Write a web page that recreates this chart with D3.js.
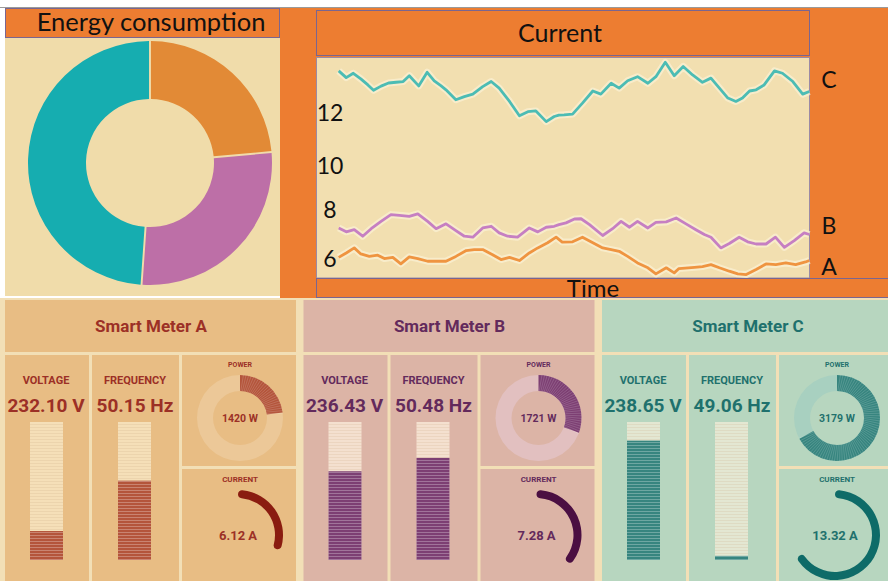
<!DOCTYPE html>
<html>
<head>
<meta charset="utf-8">
<script src="https://cdn.jsdelivr.net/npm/d3@7"></script>
<style>
  body { margin: 0; background: #fff; }
  svg { display: block; }
</style>
</head>
<body>
<div id="chart"></div>
<script>
// ---- data ----
const energyLabels = ["A", "B", "C"];
const energyShare = [23.5, 27.5, 49];          // % of total, clockwise from top

const yTicks = [6, 8, 10, 12];
const seriesNames = ["A", "B", "C"];

// [time, current] pairs
const currentA = [[0,6.05],[1.6,6.23],[3.3,6.44],[4.7,6.19],[6.5,6.09],[8.3,6.14],[9.7,6.00],[11.5,6.05],[13.2,5.78],[15.0,6.07],[16.8,6.00],[18.9,5.89],[20.7,5.89],[22.8,5.89],[24.9,6.09],[27.1,6.33],[28.8,6.37],[30.6,6.37],[32.7,6.16],[34.5,5.96],[36.3,6.05],[38.4,5.92],[40.5,6.23],[42.3,6.44],[44.4,6.65],[46.2,6.88],[47.5,6.68],[49.7,6.69],[51.8,6.88],[54.0,6.65],[56.1,6.44],[57.9,6.37],[59.6,6.30],[61.4,6.09],[63.5,5.82],[65.7,5.62],[67.4,5.37],[69.6,5.62],[71.3,5.41],[72.3,5.59],[75.6,5.64],[77.3,5.67],[79.1,5.75],[80.9,5.62],[83.0,5.48],[84.8,5.37],[86.6,5.34],[88.7,5.55],[90.8,5.78],[92.9,5.75],[95.0,5.82],[97.1,5.75],[99.2,5.86],[100,5.92]];
const currentB = [[0,7.26],[1.6,7.10],[3.3,7.19],[5.1,6.92],[6.9,7.23],[9.0,7.53],[11.1,7.81],[12.9,7.78],[15.0,7.74],[16.8,7.84],[18.9,7.53],[20.7,7.23],[22.8,7.43],[24.9,7.15],[26.7,6.92],[28.5,6.88],[30.6,7.26],[32.4,7.33],[34.1,7.06],[35.9,6.92],[38.0,6.88],[40.5,7.26],[42.3,7.10],[44.1,7.29],[45.8,7.33],[46.8,7.40],[48.3,7.47],[50.1,7.63],[51.5,7.64],[53.3,7.40],[56.1,6.95],[58.2,7.23],[60.0,7.53],[61.8,7.29],[63.5,7.53],[65.7,7.26],[67.4,7.49],[69.6,7.51],[71.7,7.67],[73.8,7.43],[75.9,7.19],[77.7,6.99],[79.1,6.88],[81.2,6.44],[83.0,6.62],[85.1,6.88],[86.9,6.69],[88.7,6.60],[90.8,6.60],[92.8,6.88],[94.7,6.46],[96.8,6.74],[98.9,7.06],[100,6.99]];
const currentC = [[0,13.73],[1.6,13.45],[3.1,13.63],[4.7,13.40],[6.2,13.15],[7.4,12.93],[9.0,13.10],[10.6,13.23],[12.2,13.26],[13.7,13.29],[15.0,13.53],[17.0,13.11],[18.8,13.67],[20.3,13.32],[21.7,13.12],[22.8,12.95],[24.9,12.54],[26.7,12.67],[28.5,12.77],[30.6,13.08],[32.4,13.29],[34.1,13.02],[36.3,12.47],[38.4,11.88],[40.2,12.05],[41.9,12.08],[44.1,11.64],[45.8,11.85],[46.8,11.91],[47.9,11.92],[49.7,11.95],[51.8,12.40],[54.0,12.90],[55.7,12.77],[57.9,13.22],[59.6,13.02],[61.4,13.32],[63.5,13.49],[65.7,13.22],[67.4,13.49],[69.4,14.08],[71.3,13.53],[73.2,13.91],[75.2,13.56],[77.3,13.26],[79.1,13.43],[80.9,13.02],[82.7,12.61],[84.4,12.47],[85.8,12.61],[87.3,12.90],[88.7,12.95],[90.4,13.15],[92.6,13.73],[94.3,13.63],[96.5,13.29],[98.6,12.77],[100,12.88]];

const meterNames = ["Smart Meter A", "Smart Meter B", "Smart Meter C"];
const voltage = [232.10, 236.43, 238.65];
const frequency = [50.15, 50.48, 49.06];
const power = [1420, 1721, 3179];
const current = [6.12, 7.28, 13.32];

// ---- styling ----
const orange = "#ed7d31";
const cream = "#f0dcaa";
const lineColors = ["#ef9440", "#c67fc2", "#4cbcb4"];
const donutColors = ["#e28a36", "#bd6fa7", "#16adb0"];
const themes = [
  { bg: "#e8bd84", text: "#9c3026", fill: "#b4553b", empty: "#f5dfb8", ring: "#ecc898", arc: "#8a1c10" },
  { bg: "#dcb4a6", text: "#632a5c", fill: "#7d3f73", empty: "#f4e0cf", ring: "#e2c0c0", arc: "#4b0f42" },
  { bg: "#b7d6bf", text: "#1f716d", fill: "#37857f", empty: "#e3e7d2", ring: "#a8d0c0", arc: "#0e6b68" }
];
const topFont = "Lato, 'Open Sans', sans-serif";
const meterFont = "Roboto, 'Noto Sans', sans-serif";

const svg = d3.select("#chart").append("svg")
  .attr("width", 888)
  .attr("height", 581);

svg.append("line")
  .attr("x1", 0).attr("x2", 888).attr("y1", 7.5).attr("y2", 7.5)
  .attr("stroke", "#9a9a9a");

// ---- energy consumption donut ----
svg.append("rect").attr("x", 5).attr("y", 38).attr("width", 275).attr("height", 258).attr("fill", cream);
svg.append("rect").attr("x", 5.5).attr("y", 8.5).attr("width", 274).attr("height", 29)
  .attr("fill", orange).attr("stroke", "#7a6590");
svg.append("text").attr("x", 151).attr("y", 31)
  .attr("text-anchor", "middle")
  .style("font-family", topFont).style("font-size", "25.5px").style("fill", "#111")
  .text("Energy consumption");

const pie = d3.pie().sort(null).padAngle(0.014);
const donutArc = d3.arc().innerRadius(64).outerRadius(122);
svg.append("g")
  .attr("transform", "translate(150,163)")
  .selectAll("path")
  .data(pie(energyShare))
  .enter().append("path")
  .attr("d", donutArc)
  .attr("fill", (d, i) => donutColors[i]);

// ---- current line chart ----
svg.append("rect").attr("x", 280).attr("y", 8).attr("width", 608).attr("height", 290).attr("fill", orange);
svg.append("rect").attr("x", 316.5).attr("y", 10.5).attr("width", 493).attr("height", 45)
  .attr("fill", orange).attr("stroke", "#7a6590");
svg.append("text").attr("x", 560).attr("y", 42)
  .attr("text-anchor", "middle")
  .style("font-family", topFont).style("font-size", "25px").style("fill", "#111")
  .text("Current");

svg.append("rect").attr("x", 316.5).attr("y", 57.5).attr("width", 493).attr("height", 220.5)
  .attr("fill", "#f2dfb0").attr("stroke", "#9b8aa5");

svg.append("rect").attr("x", 316.5).attr("y", 278.5).attr("width", 572).attr("height", 19)
  .attr("fill", orange).attr("stroke", "#7a6590");
svg.append("text").attr("x", 593).attr("y", 297)
  .attr("text-anchor", "middle")
  .style("font-family", topFont).style("font-size", "24px").style("fill", "#111")
  .text("Time");

const x = d3.scaleLinear().domain([0, 100]).range([338.7, 809.3]);
const y = d3.scaleLinear().domain([5.2, 14.3]).range([278, 57]);

svg.append("g").selectAll("text")
  .data(yTicks)
  .enter().append("text")
  .attr("x", 330)
  .attr("y", d => y(d) + (d === 10 ? 5 : 0))
  .attr("dy", "0.35em")
  .attr("text-anchor", "middle")
  .style("font-family", topFont).style("font-size", "23px").style("fill", "#111")
  .text(d => d);

const line = d3.line().x(d => x(d[0])).y(d => y(d[1]));
const allSeries = [currentA, currentB, currentC];
const lines = svg.append("g");
allSeries.forEach((s, i) => {
  lines.append("path").datum(s).attr("d", line)
    .attr("fill", "none").attr("stroke", "#fbf1d6").attr("stroke-width", 7)
    .attr("stroke-opacity", 0.7).attr("stroke-linejoin", "round");
  lines.append("path").datum(s).attr("d", line)
    .attr("fill", "none").attr("stroke", lineColors[i]).attr("stroke-width", 2.8)
    .attr("stroke-linejoin", "round");
});

const labelY = { C: 80, B: 226, A: 267 };
svg.append("g").selectAll("text")
  .data(seriesNames)
  .enter().append("text")
  .attr("x", 829)
  .attr("y", d => labelY[d])
  .attr("dy", "0.35em")
  .attr("text-anchor", "middle")
  .style("font-family", topFont).style("font-size", "23px").style("fill", "#111")
  .text(d => d);

// ---- smart meters ----
svg.append("rect").attr("x", 0).attr("y", 298).attr("width", 888).attr("height", 283).attr("fill", "#f2dfb6");

const vScale = d3.scaleLinear().domain([230, 240]).range([560, 422]);
const fScale = d3.scaleLinear().domain([49, 51]).range([560, 422]);
const pScale = d3.scaleLinear().domain([500, 4500]).range([0, 2 * Math.PI]);
const iScale = d3.scaleLinear().domain([0, 20]).range([0, 2 * Math.PI]);

const ringArc = d3.arc().innerRadius(27).outerRadius(43);
const gaugeArc = d3.arc().innerRadius(37).outerRadius(45).cornerRadius(4);

meterNames.forEach((name, i) => {
  const t = themes[i];
  const g = svg.append("g").attr("transform", `translate(${i * 298.5},0)`);

  // cells
  const cells = [[5, 300, 291, 52], [5, 355, 84, 226], [92, 355, 87, 226], [182, 355, 114, 111], [182, 469, 114, 112]];
  cells.forEach(c => g.append("rect")
    .attr("x", c[0]).attr("y", c[1]).attr("width", c[2]).attr("height", c[3]).attr("fill", t.bg));

  g.append("text").attr("x", 151).attr("y", 332)
    .attr("text-anchor", "middle")
    .style("font-family", meterFont).style("font-weight", 700).style("font-size", "17px").style("fill", t.text)
    .text(name);

  // voltage & frequency columns
  const cols = [
    { label: "VOLTAGE", cx: 46, bx: 30, value: voltage[i], txt: voltage[i].toFixed(2) + " V", scale: vScale },
    { label: "FREQUENCY", cx: 135, bx: 118, value: frequency[i], txt: frequency[i].toFixed(2) + " Hz", scale: fScale }
  ];
  cols.forEach(c => {
    g.append("text").attr("x", c.cx).attr("y", 384)
      .attr("text-anchor", "middle")
      .style("font-family", meterFont).style("font-weight", 700).style("font-size", "11px").style("fill", t.text)
      .text(c.label);
    g.append("text").attr("x", c.cx).attr("y", 412)
      .attr("text-anchor", "middle")
      .style("font-family", meterFont).style("font-weight", 700).style("font-size", "19px").style("fill", t.text)
      .text(c.txt);

    const top = c.scale.range()[1], bottom = c.scale.range()[0];
    g.append("rect").attr("x", c.bx).attr("y", top).attr("width", 33).attr("height", bottom - top).attr("fill", t.empty);
    g.append("rect").attr("x", c.bx).attr("y", c.scale(c.value)).attr("width", 33)
      .attr("height", bottom - c.scale(c.value)).attr("fill", t.fill);
    g.append("g").selectAll("line")
      .data(d3.range(top + 2, bottom, 3))
      .enter().append("line")
      .attr("x1", c.bx).attr("x2", c.bx + 33)
      .attr("y1", d => d + 0.5).attr("y2", d => d + 0.5)
      .attr("stroke", d => d >= c.scale(c.value) ? "#ffffff" : "#c8a880")
      .attr("stroke-opacity", d => d >= c.scale(c.value) ? 0.28 : 0.18);
  });

  // power ring
  const pg = g.append("g").attr("transform", "translate(240,418)");
  g.append("text").attr("x", 240).attr("y", 367)
    .attr("text-anchor", "middle")
    .style("font-family", meterFont).style("font-weight", 700).style("font-size", "7px").style("fill", t.text)
    .text("POWER");
  pg.append("path").attr("d", ringArc({ startAngle: 0, endAngle: 2 * Math.PI })).attr("fill", t.ring);
  const pEnd = pScale(power[i]);
  pg.append("path").attr("d", ringArc({ startAngle: 0, endAngle: pEnd })).attr("fill", t.fill);
  pg.append("g").selectAll("line")
    .data(d3.range(0.03, pEnd, 0.06))
    .enter().append("line")
    .attr("x1", a => 27 * Math.sin(a)).attr("y1", a => -27 * Math.cos(a))
    .attr("x2", a => 43 * Math.sin(a + 0.05)).attr("y2", a => -43 * Math.cos(a + 0.05))
    .attr("stroke", "#ffffff").attr("stroke-opacity", 0.22).attr("stroke-width", 0.7);
  pg.append("text").attr("y", 0).attr("dy", "0.35em")
    .attr("text-anchor", "middle")
    .style("font-family", meterFont).style("font-weight", 700).style("font-size", "10.5px").style("fill", t.text)
    .text(power[i] + " W");

  // current gauge
  g.append("text").attr("x", 240).attr("y", 482)
    .attr("text-anchor", "middle")
    .style("font-family", meterFont).style("font-weight", 700).style("font-size", "8px").style("fill", t.text)
    .text("CURRENT");
  const cg = g.append("g").attr("transform", "translate(238,535)");
  cg.append("path").attr("d", gaugeArc({ startAngle: 0, endAngle: iScale(current[i]) })).attr("fill", t.arc);
  cg.append("text").attr("dy", "0.35em")
    .attr("text-anchor", "middle")
    .style("font-family", meterFont).style("font-weight", 700).style("font-size", "13px").style("fill", t.text)
    .text(current[i].toFixed(2) + " A");
});
</script>
</body>
</html>
